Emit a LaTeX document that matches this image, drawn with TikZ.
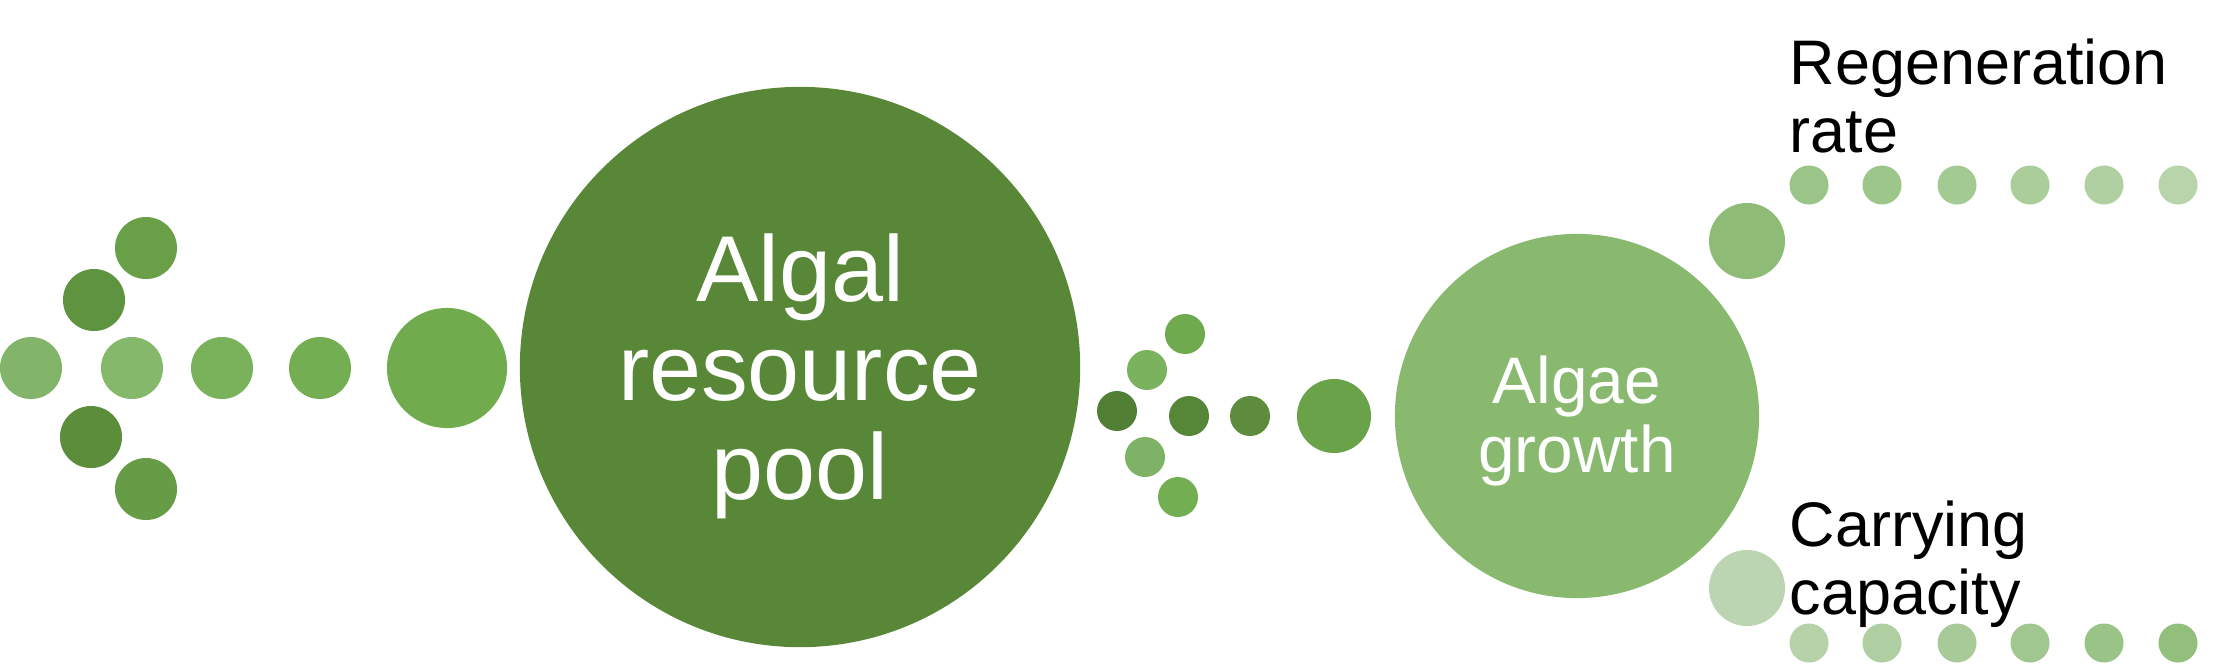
\documentclass[tikz,border=0pt]{standalone}
\usepackage{fontspec}
\setmainfont{Liberation Sans}
\usepackage{xcolor}
\usetikzlibrary{positioning}

\definecolor{poolgreen}{HTML}{588738}
\definecolor{growgreen}{HTML}{88B96F}

\begin{document}
\begin{tikzpicture}[x=0.01cm, y=-0.01cm,
        bead/.style={circle, inner sep=0pt, minimum size=#1},
        bigtext/.style={inner sep=0pt, align=center, text=white},
        sidelabel/.style={inner sep=0pt, align=left, anchor=west, text=black}]
    \useasboundingbox (0,0) rectangle (2233,663);

    % left cluster
    \node[bead=0.62cm, fill={rgb,255:red,105;green,160;blue,71}] (lt1) at (146, 248) {};
    \node[bead=0.62cm, fill={rgb,255:red,94;green,147;blue,64}] (lt2) at (94, 300) {};
    \node[bead=0.62cm, fill={rgb,255:red,130;green,181;blue,106}] (lm0) at (31, 368) {};
    \node[bead=0.62cm, fill={rgb,255:red,134;green,184;blue,108}] (lm1) at (132, 368) {};
    \node[bead=0.62cm, fill={rgb,255:red,122;green,178;blue,91}] (lm2) at (222, 368) {};
    \node[bead=0.62cm, fill={rgb,255:red,116;green,174;blue,83}] (lm3) at (320, 368) {};
    \node[bead=0.62cm, fill={rgb,255:red,91;green,141;blue,59}] (lb1) at (91, 437) {};
    \node[bead=0.62cm, fill={rgb,255:red,102;green,156;blue,69}] (lb2) at (146, 489) {};
    \node[bead=1.2cm, fill={rgb,255:red,112;green,172;blue,77}] (lbig) at (447, 368) {};

    % resource pool
    \node[bead=5.6cm, fill=poolgreen] (pool) at (800, 367) {};
    \node[bigtext, font=\fontsize{26.6}{28.2}\selectfont] (pooltxt) at (800, 376) {Algal\\resource\\pool};

    % middle cluster
    \node[bead=0.4cm, fill={rgb,255:red,111;green,171;blue,78}] (mt1) at (1185, 334) {};
    \node[bead=0.4cm, fill={rgb,255:red,123;green,178;blue,94}] (mt2) at (1147, 370) {};
    \node[bead=0.4cm, fill={rgb,255:red,81;green,127;blue,52}] (mm0) at (1117, 411) {};
    \node[bead=0.4cm, fill={rgb,255:red,86;green,134;blue,56}] (mm1) at (1189, 416) {};
    \node[bead=0.4cm, fill={rgb,255:red,92;green,140;blue,60}] (mm2) at (1250, 416) {};
    \node[bead=0.4cm, fill={rgb,255:red,126;green,178;blue,102}] (mb1) at (1145, 457) {};
    \node[bead=0.4cm, fill={rgb,255:red,115;green,174;blue,82}] (mb2) at (1178, 497) {};
    \node[bead=0.74cm, fill={rgb,255:red,105;green,162;blue,73}] (mbig) at (1334, 416) {};

    % algae growth
    \node[bead=3.64cm, fill=growgreen] (grow) at (1577, 416) {};
    \node[bigtext, font=\fontsize{18.7}{19.35}\selectfont] (growtxt) at (1577, 421) {Algae\\growth};

    % regeneration branch
    \node[bead=0.76cm, fill={rgb,255:red,142;green,188;blue,119}] (rg) at (1747, 241) {};
    \node[bead=0.39cm, fill={rgb,255:red,155;green,196;blue,136}] (rg1) at (1809, 185) {};
    \node[bead=0.39cm, fill={rgb,255:red,156;green,198;blue,138}] (rg2) at (1882, 185) {};
    \node[bead=0.39cm, fill={rgb,255:red,164;green,202;blue,147}] (rg3) at (1957, 185) {};
    \node[bead=0.39cm, fill={rgb,255:red,170;green,205;blue,154}] (rg4) at (2030, 185) {};
    \node[bead=0.39cm, fill={rgb,255:red,177;green,208;blue,162}] (rg5) at (2104, 185) {};
    \node[bead=0.39cm, fill={rgb,255:red,184;green,212;blue,171}] (rg6) at (2178, 185) {};
    \node[sidelabel, font=\fontsize{17.9}{19.6}\selectfont] (rgtxt) at (1789, 96) {Regeneration\\rate};

    % carrying capacity branch
    \node[bead=0.76cm, fill={rgb,255:red,187;green,212;blue,177}] (cc) at (1747, 588) {};
    \node[bead=0.39cm, fill={rgb,255:red,182;green,210;blue,169}] (cc1) at (1809, 643) {};
    \node[bead=0.39cm, fill={rgb,255:red,175;green,206;blue,161}] (cc2) at (1882, 643) {};
    \node[bead=0.39cm, fill={rgb,255:red,168;green,202;blue,152}] (cc3) at (1957, 643) {};
    \node[bead=0.39cm, fill={rgb,255:red,161;green,199;blue,144}] (cc4) at (2030, 643) {};
    \node[bead=0.39cm, fill={rgb,255:red,153;green,195;blue,135}] (cc5) at (2104, 643) {};
    \node[bead=0.39cm, fill={rgb,255:red,147;green,191;blue,125}] (cc6) at (2178, 643) {};
    \node[sidelabel, font=\fontsize{17.9}{19.35}\selectfont] (cctxt) at (1789, 564) {Carrying\\capacity};
\end{tikzpicture}
\end{document}
